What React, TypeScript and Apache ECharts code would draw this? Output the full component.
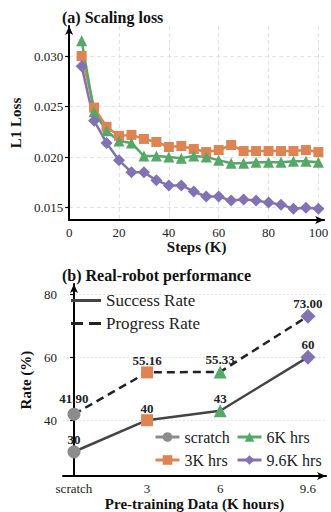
import React, { useEffect, useRef } from 'react';
import * as echarts from 'echarts';

// ---------- (a) Scaling loss ----------
const steps = [5, 10, 15, 20, 25, 30, 35, 40, 45, 50, 55, 60, 65, 70, 75, 80, 85, 90, 95, 100];
const loss3K = [0.0300, 0.0249, 0.0230, 0.0221, 0.0222, 0.0218, 0.0215, 0.0210, 0.0211, 0.0208, 0.0205, 0.0207, 0.0212, 0.0206, 0.0206, 0.0206, 0.0206, 0.0206, 0.0207, 0.0205];
const loss6K = [0.0315, 0.0245, 0.0226, 0.0216, 0.0214, 0.0201, 0.0201, 0.0200, 0.0199, 0.0201, 0.0200, 0.0197, 0.0194, 0.0194, 0.0195, 0.0195, 0.0195, 0.0196, 0.0196, 0.0195];
const loss96K = [0.0290, 0.0236, 0.0214, 0.0197, 0.0185, 0.0185, 0.0177, 0.0172, 0.0172, 0.0166, 0.0161, 0.0161, 0.0157, 0.0158, 0.0157, 0.0155, 0.0153, 0.0149, 0.0150, 0.0149];
const stepTicks = [0, 20, 40, 60, 80, 100];
const lossTicks = [0.015, 0.02, 0.025, 0.03];
const lossTickLabels = ['0.015', '0.020', '0.025', '0.030'];

// ---------- (b) Real-robot performance ----------
const hourLabels = ['scratch', '3', '6', '9.6'];
const hourValues = [0, 3, 6, 9.6];
const successRate = [30, 40, 43, 60];
const progressRate = [41.9, 55.16, 55.33, 73.0];
const progressLabels = ['41.90', '55.16', '55.33', '73.00'];
const rateTicks = [40, 60, 80];
const groupNames = ['scratch', '3K hrs', '6K hrs', '9.6K hrs'];

const FONT = 'Liberation Serif';
const C_GRAY = '#8c8c8c';
const C_ORANGE = '#dd8452';
const C_GREEN = '#55a868';
const C_PURPLE = '#8172b3';
const groupColors = [C_GRAY, C_ORANGE, C_GREEN, C_PURPLE];
const groupSymbols = ['circle', 'rect', 'triangle', 'diamond'];
const groupSizes = [13, 12, 13, 15];

export default function App() {
  const ref = useRef<HTMLDivElement>(null);
  useEffect(() => {
    if (!ref.current) return;
    const chart = echarts.init(ref.current, null, { renderer: 'svg' });

    const axisLine = {
      show: true,
      lineStyle: { color: '#000', width: 2 },
      symbol: ['none', 'arrow'],
      symbolSize: [6, 9],
    };

    const lossSeries = [
      { name: 'l3', data: loss3K, color: C_ORANGE, symbol: 'rect', size: 10 },
      { name: 'l6', data: loss6K, color: C_GREEN, symbol: 'triangle', size: 11 },
      { name: 'l96', data: loss96K, color: C_PURPLE, symbol: 'diamond', size: 12 },
    ].map((s) => ({
      type: 'line',
      name: s.name,
      xAxisIndex: 0,
      yAxisIndex: 0,
      data: steps.map((x, i) => [x, s.data[i]]),
      symbol: s.symbol,
      symbolSize: s.size,
      lineStyle: { color: s.color, width: 2.5 },
      itemStyle: { color: s.color },
      z: 3,
    }));

    const groupSeries = groupNames.map((g, i) => ({
      type: 'line',
      name: g,
      xAxisIndex: 1,
      yAxisIndex: 1,
      data: [
        {
          value: [hourValues[i], successRate[i]],
          label: { show: true, formatter: String(successRate[i]) },
        },
        {
          value: [hourValues[i], progressRate[i]],
          label: { show: true, formatter: progressLabels[i], distance: i === 0 ? 3 : -1 },
        },
      ],
      symbol: groupSymbols[i],
      symbolSize: groupSizes[i],
      itemStyle: { color: groupColors[i] },
      lineStyle: { width: 0, opacity: 0 },
      label: {
        position: 'top',
        distance: -1,
        fontFamily: FONT,
        fontWeight: 'bold',
        fontSize: 13,
        color: '#222',
      },
      z: 5,
    }));

    const option: any = {
      animation: false,
      backgroundColor: '#fff',
      title: [
        {
          text: '(a) Scaling loss',
          left: 62,
          top: 9,
          padding: 0,
          textStyle: { fontFamily: FONT, fontWeight: 'bold', fontSize: 16, color: '#111' },
        },
        {
          text: '(b) Real-robot performance',
          left: 62,
          top: 267,
          padding: 0,
          textStyle: { fontFamily: FONT, fontWeight: 'bold', fontSize: 16, color: '#111' },
        },
      ],
      grid: [
        { left: 63, top: 26, width: 263, height: 194, containLabel: false },
        { left: 63, top: 284, width: 263, height: 195, containLabel: false },
      ],
      xAxis: [
        {
          type: 'value',
          gridIndex: 0,
          min: 0,
          max: 102.3,
          name: 'Steps (K)',
          nameLocation: 'middle',
          nameGap: 19,
          nameTextStyle: { fontFamily: FONT, fontWeight: 'bold', fontSize: 15, color: '#111' },
          axisLine,
          axisTick: { show: false, customValues: stepTicks },
          axisLabel: { customValues: stepTicks, fontFamily: FONT, fontSize: 13, color: '#222', margin: 6 },
          splitLine: { show: true, lineStyle: { color: '#e3e3e3', type: [4, 3], width: 1 } },
        },
        {
          type: 'value',
          gridIndex: 1,
          min: -0.45,
          max: 10.34,
          name: 'Pre-training Data (K hours)',
          nameLocation: 'middle',
          nameGap: 19,
          nameTextStyle: { fontFamily: FONT, fontWeight: 'bold', fontSize: 15, color: '#111' },
          axisLine,
          axisTick: { show: false, customValues: hourValues },
          axisLabel: {
            customValues: hourValues,
            formatter: (v: number) => {
              const k = hourValues.findIndex((h) => Math.abs(h - v) < 1e-6);
              return k >= 0 ? hourLabels[k] : '';
            },
            fontFamily: FONT,
            fontSize: 13,
            color: '#222',
            margin: 6,
          },
          splitLine: { show: false },
        },
      ],
      yAxis: [
        {
          type: 'value',
          gridIndex: 0,
          min: 0.01378,
          max: 0.03297,
          name: 'L1 Loss',
          nameLocation: 'middle',
          nameGap: 37,
          nameTextStyle: { fontFamily: FONT, fontWeight: 'bold', fontSize: 15, color: '#111' },
          axisLine,
          axisTick: { show: true, length: 4, customValues: lossTicks, lineStyle: { color: '#000', width: 1.2 } },
          axisLabel: {
            customValues: lossTicks,
            formatter: (v: number) => {
              const k = lossTicks.findIndex((t) => Math.abs(t - v) < 1e-9);
              return k >= 0 ? lossTickLabels[k] : '';
            },
            fontFamily: FONT,
            fontSize: 13,
            color: '#222',
            margin: 6,
          },
          splitLine: { show: true, lineStyle: { color: '#e3e3e3', type: [4, 3], width: 1 } },
        },
        {
          type: 'value',
          gridIndex: 1,
          min: 22.28,
          max: 83.2,
          name: 'Rate (%)',
          nameLocation: 'middle',
          nameGap: 20,
          nameTextStyle: { fontFamily: FONT, fontWeight: 'bold', fontSize: 15, color: '#111' },
          axisLine,
          axisTick: { show: true, length: 4, customValues: rateTicks, lineStyle: { color: '#000', width: 1.2 } },
          axisLabel: { customValues: rateTicks, fontFamily: FONT, fontSize: 13, color: '#222', margin: 6 },
          splitLine: { show: true, lineStyle: { color: '#e6e6e6', type: [2, 2], width: 1 } },
        },
      ],
      legend: [
        {
          orient: 'vertical',
          left: 71,
          top: 292,
          padding: 0,
          itemGap: 6,
          itemWidth: 30,
          itemHeight: 3,
          textStyle: { fontFamily: FONT, fontSize: 17, color: '#222' },
          data: [
            {
              name: 'Success Rate',
              icon: 'path://M0,0H30V3H0Z',
              itemStyle: { color: '#444' },
            },
            {
              name: 'Progress Rate',
              icon: 'path://M0,0H12V3H0Z M18,0H30V3H18Z',
              itemStyle: { color: '#222' },
            },
          ],
        },
        {
          orient: 'vertical',
          left: 154,
          top: 429,
          padding: 0,
          itemGap: 7,
          itemWidth: 24,
          itemHeight: 12,
          textStyle: { fontFamily: FONT, fontSize: 16, color: '#222' },
          data: [
            { name: 'scratch', lineStyle: { color: C_GRAY, width: 3, opacity: 1 } },
            { name: '3K hrs', lineStyle: { color: C_ORANGE, width: 3, opacity: 1 } },
          ],
        },
        {
          orient: 'vertical',
          left: 236,
          top: 429,
          padding: 0,
          itemGap: 7,
          itemWidth: 24,
          itemHeight: 12,
          textStyle: { fontFamily: FONT, fontSize: 16, color: '#222' },
          data: [
            { name: '6K hrs', lineStyle: { color: C_GREEN, width: 3, opacity: 1 } },
            { name: '9.6K hrs', lineStyle: { color: C_PURPLE, width: 3, opacity: 1 } },
          ],
        },
      ],
      series: [
        ...lossSeries,
        {
          type: 'line',
          name: 'Success Rate',
          xAxisIndex: 1,
          yAxisIndex: 1,
          data: hourValues.map((x, i) => [x, successRate[i]]),
          symbol: 'none',
          lineStyle: { color: '#444', width: 2.5, type: 'solid' },
          itemStyle: { color: '#444' },
          z: 2,
        },
        {
          type: 'line',
          name: 'Progress Rate',
          xAxisIndex: 1,
          yAxisIndex: 1,
          data: hourValues.map((x, i) => [x, progressRate[i]]),
          symbol: 'none',
          lineStyle: { color: '#222', width: 2.5, type: [8, 5] },
          itemStyle: { color: '#222' },
          z: 2,
        },
        ...groupSeries,
      ],
    };
    chart.setOption(option);
    return () => chart.dispose();
  }, []);

  return (
    <div
      ref={ref}
      style={{ position: 'fixed', left: 0, top: 0, width: 331, height: 512 }}
    />
  );
}
